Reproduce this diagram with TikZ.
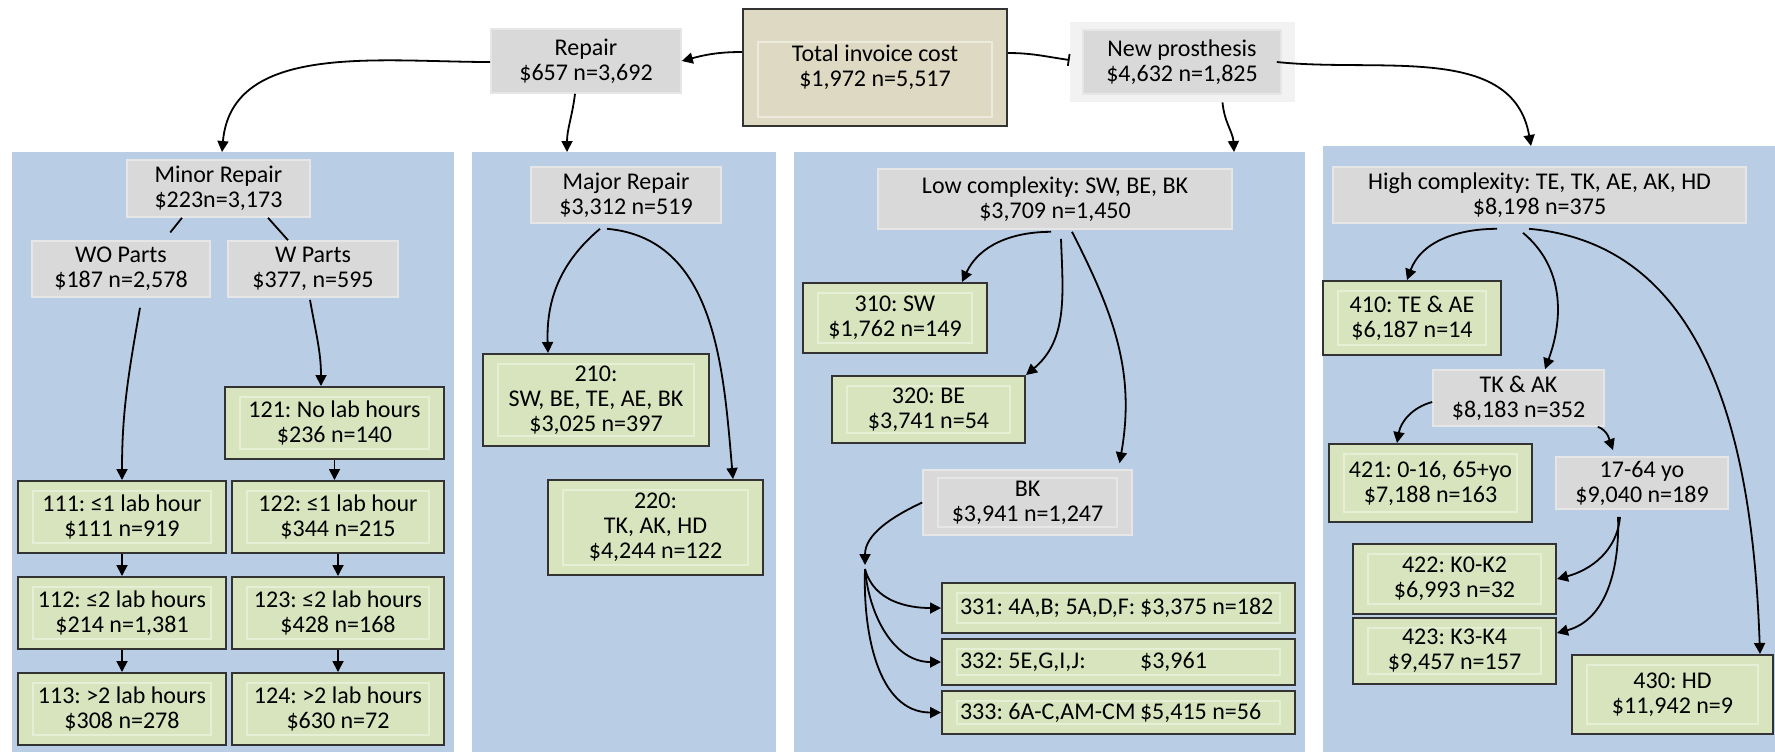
\documentclass[tikz,border=0pt]{standalone}
\usepackage{fontspec}
\setmainfont{Carlito}
\frenchspacing
\usepackage{xcolor}
\definecolor{panelBlue}{HTML}{B9CDE5}
\definecolor{boxGray}{HTML}{D9D9D9}
\definecolor{boxGrayLine}{HTML}{E6E6E6}
\definecolor{leafGreen}{HTML}{D7E4BD}
\definecolor{leafGreenLine}{HTML}{E6EED6}
\definecolor{rootTan}{HTML}{DDD9C3}
\definecolor{rootTanLine}{HTML}{ECE9DD}
\definecolor{frameGray}{HTML}{F2F2F2}
\usepackage{tikz}
\usetikzlibrary{positioning,arrows.meta}
\tikzset{every node/.style={font=\fontsize{12}{12.5}\selectfont, align=center, inner sep=2pt}}
\tikzset{leafinset/.style={path picture={\draw[draw=leafGreenLine, line width=0.6pt]
  ([shift={(7.5pt,-5pt)}]path picture bounding box.north west) rectangle
  ([shift={(-7.5pt,5pt)}]path picture bounding box.south east);}}}
\tikzset{grayinset/.style={path picture={\draw[draw=boxGrayLine, line width=0.6pt]
  ([shift={(7.5pt,-4pt)}]path picture bounding box.north west) rectangle
  ([shift={(-7.5pt,4pt)}]path picture bounding box.south east);}}}
\tikzset{rootinset/.style={path picture={\draw[draw=rootTanLine, line width=0.6pt]
  ([shift={(7.5pt,-16.5pt)}]path picture bounding box.north west) rectangle
  ([shift={(-7.5pt,4.5pt)}]path picture bounding box.south east);}}}
\tikzset{panel/.style={fill=panelBlue, anchor=north west, inner sep=0pt}}
\tikzset{graybox/.style={fill=boxGray, draw=boxGrayLine, line width=0.8pt}}
\tikzset{leaf/.style={fill=leafGreen, draw=black!80, line width=1pt, leafinset}}
\tikzset{leafrow/.style={leaf, minimum width=176.5pt, text width=158.5pt, inner xsep=9pt, align=flush left}}
\tikzset{root/.style={fill=rootTan, draw=black!80, line width=1.2pt, rootinset}}
\tikzset{arrow/.style={-{Triangle[length=5.5pt,width=5.5pt]}, line width=0.9pt}}
\tikzset{link/.style={line width=0.9pt}}

\begin{document}
\begin{tikzpicture}[x=0.5pt, y=0.5pt]
\useasboundingbox (0,0) rectangle (1775,-752);
%--------------------
% panels
%--------------------
\node[panel, minimum width=221pt, minimum height=300pt](p1) at (12,-152){};
\node[panel, minimum width=152pt, minimum height=300pt](p2) at (472,-152){};
\node[panel, minimum width=255.5pt, minimum height=300pt](p3) at (794,-152){};
\node[panel, minimum width=226pt, minimum height=303pt](p4) at (1323,-146){};

%--------------------
% total, repair, new prosthesis
%--------------------
\node[root, minimum width=132pt, minimum height=58.5pt](total) at (875,-67.5){Total invoice cost\\\$1,972 n=5,517};
\node[graybox, minimum width=95pt, minimum height=32pt](repair) at (586,-61){Repair\\\$657 n=3,692};
\node[fill=frameGray, minimum width=112.5pt, minimum height=40pt](npframe) at (1182.5,-62){};
\node[graybox, minimum width=99pt, minimum height=32pt](newp) at (1182,-62){New prosthesis\\\$4,632 n=1,825};
\draw[arrow] ([yshift=7.75pt]total.west) to[out=180,in=15] (repair.east);
\draw[link, -{Bar[width=6pt]}] ([yshift=7.25pt]total.east) to[out=0,in=172] ([yshift=1pt]npframe.west);
\draw[arrow] ([yshift=-0.5pt]repair.west) to[out=180,in=85] ([xshift=105pt]p1.north west);
\draw[arrow] ([xshift=-5.5pt]repair.south) to[out=-97,in=90] ([xshift=47.5pt]p2.north west);
\draw[arrow] ([xshift=20pt]npframe.south) to[out=-85,in=93] ([xshift=220pt]p3.north west);
\draw[arrow] ([xshift=-2.5pt]newp.east) to[out=-6,in=100] ([xshift=104pt]p4.north west);

%--------------------
% minor repair
%--------------------
\node[graybox, minimum width=91.5pt, minimum height=28.5pt](minor) at (218.5,-188.5){Minor Repair\\\$223n=3,173};
\node[graybox, minimum width=89pt, minimum height=28pt](wo) at (121,-269){WO Parts\\\$187 n=2,578};
\node[graybox, minimum width=85pt, minimum height=28pt](w) at (313,-269){W Parts\\\$377, n=595};
\node[leaf, minimum width=109.5pt, minimum height=36pt](n121) at (334.5,-423){121: No lab hours\\\$236 n=140};
\node[leaf, minimum width=104pt, minimum height=36pt](n111) at (122,-517){111: ≤1 lab hour\\\$111 n=919};
\node[leaf, minimum width=104pt, minimum height=36pt](n112)[below=11pt of n111]{112: ≤2 lab hours\\\$214 n=1,381};
\node[leaf, minimum width=104pt, minimum height=36pt](n113)[below=11pt of n112]{113: >2 lab hours\\\$308 n=278};
\node[leaf, minimum width=106pt, minimum height=36pt](n122) at (338,-517){122: ≤1 lab hour\\\$344 n=215};
\node[leaf, minimum width=106pt, minimum height=36pt](n123)[below=11pt of n122]{123: ≤2 lab hours\\\$428 n=168};
\node[leaf, minimum width=106pt, minimum height=36pt](n124)[below=11pt of n123]{124: >2 lab hours\\\$630 n=72};
\draw[link, shorten >=5pt] ([xshift=-18.25pt]minor.south) -- ([xshift=21.5pt]wo.north);
\draw[link] ([xshift=24.75pt]minor.south) -- ([xshift=-12.5pt]w.north);
\draw[arrow] ([xshift=9.5pt,yshift=-5pt]wo.south) to[out=-100,in=90] (n111.north);
\draw[arrow] ([xshift=-1.5pt,yshift=-1pt]w.south) to[out=-80,in=90] ([xshift=-6.75pt]n121.north);
\draw[arrow] (n121.south) -- (n121.south |- n122.north);
\draw[arrow] (n111) -- (n112);
\draw[arrow] (n112) -- (n113);
\draw[arrow] (n122) -- (n123);
\draw[arrow] (n123) -- (n124);

%--------------------
% major repair
%--------------------
\node[graybox, minimum width=95pt, minimum height=28pt](major) at (626,-195){Major Repair\\\$3,312 n=519};
\node[leaf, minimum width=113pt, minimum height=46pt](n210) at (596,-400){210:\\SW, BE, TE, AE, BK\\\$3,025 n=397};
\node[leaf, minimum width=107.5pt, minimum height=47.5pt](n220) at (655.5,-527.5){220:\\TK, AK, HD\\\$4,244 n=122};
\draw[arrow] ([xshift=-13pt,yshift=-2.5pt]major.south) to[out=220,in=92] ([xshift=-24pt]n210.north);
\draw[arrow] ([xshift=-9.5pt,yshift=-2.5pt]major.south) to[out=-5,in=95] ([xshift=38.75pt]n220.north);

%--------------------
% low complexity
%--------------------
\node[graybox, minimum width=177pt, minimum height=30pt](low) at (1055,-199){Low complexity: SW, BE, BK\\\$3,709 n=1,450};
\node[leaf, minimum width=92pt, minimum height=35pt](n310) at (895,-318){310: SW\\\$1,762 n=149};
\node[leaf, minimum width=96.5pt, minimum height=33.5pt](n320) at (928.5,-409.5){320: BE\\\$3,741 n=54};
\node[graybox, grayinset, minimum width=104.5pt, minimum height=32.5pt](bk) at (1027.5,-502.5){BK\\\$3,941 n=1,247};
\coordinate (split) at (865,-569);
\node[leafrow, minimum height=25pt](n331) at (1118.5,-608){\makebox[90pt][l]{331: 4A,B; 5A,D,F:}\$3,375 n=182};
\node[leafrow, minimum height=23pt](n332)[below=2pt of n331]{\makebox[90pt][l]{332: 5E,G,I,J:}\$3,961};
\node[leafrow, minimum height=21.5pt](n333)[below=2pt of n332]{\makebox[90pt][l]{333: 6A-C,AM-CM}\$5,415 n=56};
\draw[arrow] ([xshift=-2pt,yshift=-1pt]low.south) to[out=180,in=65] ([xshift=33.5pt]n310.north);
\draw[arrow] ([xshift=3pt,yshift=-4.5pt]low.south) to[out=-88,in=40] (n320.north east);
\draw[arrow] ([xshift=8.5pt,yshift=-1pt]low.south) to[out=-63,in=80] ([xshift=46pt,yshift=3pt]bk.north);
\draw[arrow, shorten >=2pt] (bk.west) to[out=205,in=90] (split);
\draw[arrow] (split) to[out=-75,in=180] (n331.west);
\draw[arrow] (split) to[out=-85,in=180] (n332.west);
\draw[arrow] (split) to[out=-92,in=180] (n333.west);

%--------------------
% high complexity
%--------------------
\node[graybox, minimum width=206.5pt, minimum height=28pt](high) at (1539.5,-195){High complexity: TE, TK, AE, AK, HD\\\$8,198 n=375};
\node[leaf, minimum width=89pt, minimum height=37pt](n410) at (1412,-318){410: TE \& AE\\\$6,187 n=14};
\node[graybox, minimum width=85.5pt, minimum height=28pt](tkak) at (1518.5,-398){TK \& AK\\\$8,183 n=352};
\node[leaf, minimum width=101.5pt, minimum height=39pt](n421) at (1430.5,-483){421: 0-16, 65+yo\\\$7,188 n=163};
\node[graybox, minimum width=86pt, minimum height=26pt](adult) at (1642,-483){17-64 yo\\\$9,040 n=189};
\node[leaf, minimum width=101.5pt, minimum height=35pt](n422) at (1454.5,-579){422: K0-K2\\\$6,993 n=32};
\node[leaf, minimum width=101.5pt, minimum height=33pt](n423)[below=1pt of n422]{423: K3-K4\\\$9,457 n=157};
\node[leaf, minimum width=100.5pt, minimum height=39.5pt](n430) at (1672.5,-694.5){430: HD\\\$11,942 n=9};
\draw[arrow] ([xshift=-21.25pt,yshift=-2.5pt]high.south) to[out=180,in=70] ([xshift=-2.5pt]n410.north);
\draw[arrow] ([xshift=-8.25pt,yshift=-4.5pt]high.south) to[out=-40,in=70] ([xshift=13.25pt]tkak.north);
\draw[arrow] ([xshift=-5.25pt,yshift=-2.5pt]high.south) to[out=-5,in=92] ([xshift=43.75pt]n430.north);
\draw[arrow] ([yshift=-2pt]tkak.west) to[out=195,in=80] ([xshift=-16.75pt]n421.north);
\draw[arrow] ([xshift=-3.5pt]tkak.south east) to[out=-20,in=110] ([xshift=-14.5pt,yshift=3pt]adult.north);
\draw[arrow] ([xshift=-11pt,yshift=-3.5pt]adult.south) to[out=-95,in=15] (n422.east);
\draw[arrow] ([xshift=-12pt,yshift=-3.5pt]adult.south) to[out=-88,in=15] ([yshift=9pt]n423.east);
\end{tikzpicture}
\end{document}
